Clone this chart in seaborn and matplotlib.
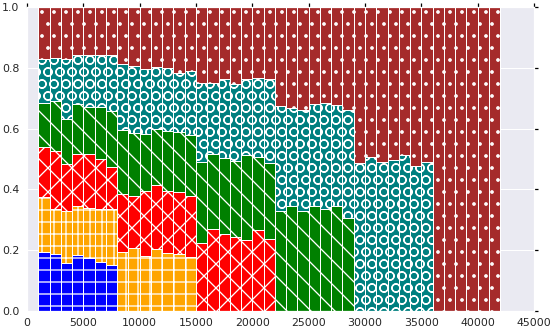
import matplotlib
matplotlib.use("Agg")
import matplotlib.pyplot as plt
import numpy as np
import seaborn as sns

# bar left edges (width 1000)
x_left = list(range(1000, 42000, 1000))

# segment heights (each list starts at the first bar)
blue = [0.195, 0.186, 0.159, 0.183, 0.173, 0.162, 0.151]
orange = [0.181, 0.151, 0.169, 0.163, 0.165, 0.173, 0.184,
          0.193, 0.206, 0.180, 0.204, 0.190, 0.186, 0.179]
red = [0.162, 0.190, 0.155, 0.169, 0.177, 0.164, 0.138,
       0.191, 0.171, 0.215, 0.209, 0.205, 0.206, 0.200,
       0.225, 0.271, 0.252, 0.242, 0.234, 0.266, 0.236]
green = [0.147, 0.165, 0.148, 0.167, 0.157, 0.173, 0.184,
         0.212, 0.207, 0.186, 0.185, 0.196, 0.197, 0.199,
         0.266, 0.244, 0.250, 0.252, 0.280, 0.240, 0.250,
         0.328, 0.346, 0.330, 0.346, 0.335, 0.346, 0.305]
teal = [0.145, 0.140, 0.197, 0.159, 0.169, 0.169, 0.184,
        0.216, 0.222, 0.216, 0.206, 0.207, 0.195, 0.211,
        0.260, 0.234, 0.260, 0.252, 0.248, 0.260, 0.277,
        0.347, 0.321, 0.331, 0.336, 0.349, 0.331, 0.356,
        0.486, 0.506, 0.489, 0.496, 0.514, 0.477, 0.489]
brown = [0.170, 0.168, 0.172, 0.159, 0.159, 0.159, 0.159,
         0.188, 0.194, 0.203, 0.196, 0.202, 0.216, 0.211,
         0.249, 0.251, 0.238, 0.254, 0.238, 0.234, 0.237,
         0.325, 0.333, 0.339, 0.318, 0.316, 0.323, 0.339,
         0.514, 0.494, 0.511, 0.504, 0.486, 0.523, 0.511,
         1.0, 1.0, 1.0, 1.0, 1.0, 1.0]

series = [blue, orange, red, green, teal, brown]
colors = ["blue", "orange", "red", "green", "teal", "brown"]
hatches = ["-", "+", "x", "\\", "O", "."]

sns.set_theme(style="darkgrid")
plt.rcParams["hatch.color"] = "white"
plt.rcParams["hatch.linewidth"] = 1.3

fig = plt.figure(figsize=(550 / 72, 330 / 72), dpi=72)
ax = fig.add_axes([27 / 550, 19 / 330, 507 / 550, 304 / 330])

n = len(x_left)
bottom = np.zeros(n)
for vals, c, h in zip(series, colors, hatches):
    k = len(vals)
    ax.bar(x_left[:k], vals, width=1000, bottom=bottom[:k], align="edge",
           color=c, edgecolor="white", hatch=h, linewidth=1)
    bottom[:k] += np.array(vals)

ax.set_xlim(0, 45000)
ax.set_ylim(0, 1)
ax.set_xticks(range(0, 45001, 5000))
ax.set_yticks(np.arange(0, 1.01, 0.2))
ax.tick_params(direction="out", length=4, color="black", top=True, right=True,
               labelsize=11)

fig.savefig("out.png", dpi=72)
